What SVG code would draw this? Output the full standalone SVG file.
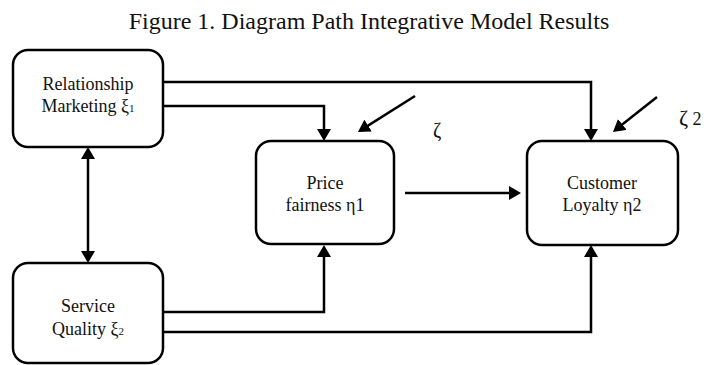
<svg xmlns="http://www.w3.org/2000/svg" width="713" height="365" viewBox="0 0 713 365">
<style>
.box{fill:#fff;stroke:#000;stroke-width:2.5}
.t{font-family:"Liberation Serif","Times New Roman",serif;font-size:18px;fill:#111;text-anchor:middle}
.title{font-family:"Liberation Serif","Times New Roman",serif;font-size:24px;fill:#111;text-anchor:middle}
.c{fill:none;stroke:#000;stroke-width:2.5}
.sub{font-size:11px}
</style>
<defs>
<marker id="ah" viewBox="0 0 12 14" refX="9" refY="7" markerWidth="12" markerHeight="14" markerUnits="userSpaceOnUse" orient="auto-start-reverse">
<path d="M0,0 L12,7 L0,14 z" fill="#000"/>
</marker>
</defs>
<rect width="713" height="365" fill="#fff"/>
<text class="title" x="369" y="29">Figure 1. Diagram Path Integrative Model Results</text>
<g id="connectors">
<path class="c" d="M163,82 H591 V138" marker-end="url(#ah)"/>
<path class="c" d="M163,106 H324 V138" marker-end="url(#ah)"/>
<path class="c" d="M163,312 H324 V248" marker-end="url(#ah)"/>
<path class="c" d="M163,332 H591 V248" marker-end="url(#ah)"/>
<path class="c" d="M405,193 H518" marker-end="url(#ah)"/>
<path class="c" d="M88,150 V260" marker-start="url(#ah)" marker-end="url(#ah)"/>
<path class="c" d="M415,96 L360.5,130.4" marker-end="url(#ah)"/>
<path class="c" d="M657,97 L615.3,130.1" marker-end="url(#ah)"/>
</g>
<g id="relationship-marketing">
<rect class="box" x="13" y="50" width="150" height="97" rx="15"/>
<text class="t" x="88" y="90">Relationship</text>
<text class="t" x="88" y="112">Marketing ξ<tspan class="sub">1</tspan></text>
</g>
<g id="service-quality">
<rect class="box" x="13" y="263" width="150" height="100" rx="15"/>
<text class="t" x="88" y="312">Service</text>
<text class="t" x="88" y="335">Quality ξ<tspan class="sub">2</tspan></text>
</g>
<g id="price-fairness">
<rect class="box" x="256" y="141" width="138" height="103" rx="15"/>
<text class="t" x="325" y="189">Price</text>
<text class="t" x="325" y="211">fairness η1</text>
</g>
<g id="customer-loyalty">
<rect class="box" x="527" y="141" width="151" height="104" rx="15"/>
<text class="t" x="602" y="189">Customer</text>
<text class="t" x="602" y="211">Loyalty η2</text>
</g>
<g id="zeta-labels">
<text class="t" style="text-anchor:start;font-size:20px" x="433" y="137">ζ</text>
<text class="t" style="text-anchor:start;font-size:22px" x="679" y="125">ζ<tspan style="font-size:18px"> 2</tspan></text>
</g>
</svg>
